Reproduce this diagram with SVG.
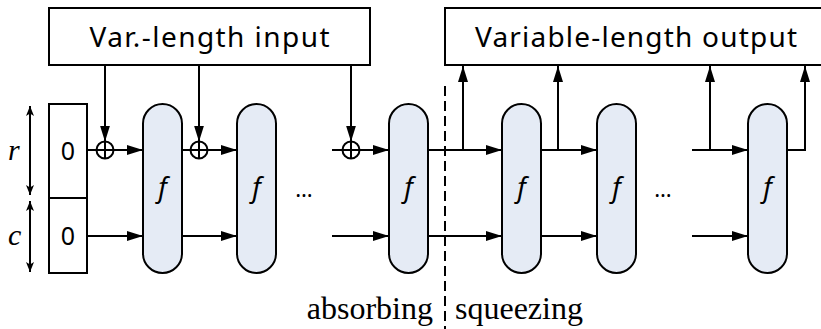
<svg xmlns="http://www.w3.org/2000/svg" width="821" height="329" viewBox="0 0 821 329">
<style>
.box{fill:#fff;stroke:#000;stroke-width:2}
.f{fill:#e5ebf5;stroke:#000;stroke-width:2}
.ln{fill:none;stroke:#000;stroke-width:2}
.ar{marker-end:url(#ah)}
.sans{font-family:"Noto Sans","Open Sans",sans-serif;fill:#000}
.fl{font-family:"Noto Sans","Open Sans",sans-serif;font-style:italic;font-size:27px;text-anchor:middle}
</style>
<defs>
<marker id="ah" markerUnits="userSpaceOnUse" markerWidth="17" markerHeight="11" refX="16" refY="5" orient="auto">
<path d="M0,0 L16,5 L0,10 z" fill="#000"/>
</marker>
<marker id="sm" markerUnits="userSpaceOnUse" markerWidth="11" markerHeight="9" refX="10" refY="4" orient="auto-start-reverse">
<path d="M0,0 L10,4 L0,8 L2.5,4 z" fill="#000"/>
</marker>
</defs>

<g id="input">
<rect class="box" x="49" y="8" width="321" height="57"/>
<text class="sans" x="209.5" y="47" font-size="28" text-anchor="middle" textLength="240" lengthAdjust="spacing">Var.-length input</text>
</g>
<g id="output">
<rect class="box" x="445" y="8" width="390" height="57"/>
<text class="sans" x="636" y="47" font-size="28" text-anchor="middle" textLength="322" lengthAdjust="spacing">Variable-length output</text>
</g>

<g id="state">
<rect class="box" x="49" y="104" width="38" height="94"/>
<rect class="box" x="49" y="198" width="38" height="75"/>
<text class="sans" x="68" y="160" font-size="25" text-anchor="middle">0</text>
<text class="sans" x="68" y="245" font-size="25" text-anchor="middle">0</text>
</g>

<g id="dims">
<line class="ln" x1="30" y1="106" x2="30" y2="195" marker-start="url(#sm)" marker-end="url(#sm)"/>
<line class="ln" x1="30" y1="201" x2="30" y2="272" marker-start="url(#sm)" marker-end="url(#sm)"/>
<text x="8" y="160" font-family="'Liberation Serif', 'Times New Roman', 'DejaVu Serif', serif" font-size="30" font-style="italic">r</text>
<text x="8" y="245" font-family="'Liberation Serif', 'Times New Roman', 'DejaVu Serif', serif" font-size="30" font-style="italic">c</text>
</g>

<g id="f1"><rect class="f" x="143" y="104" width="39" height="169" rx="19.5"/><text class="fl" x="162.5" y="197">f</text></g>
<g id="f2"><rect class="f" x="237" y="104" width="39" height="169" rx="19.5"/><text class="fl" x="256.5" y="197">f</text></g>
<g id="f3"><rect class="f" x="389" y="104" width="39" height="169" rx="19.5"/><text class="fl" x="408.5" y="197">f</text></g>
<g id="f4"><rect class="f" x="502" y="104" width="39" height="169" rx="19.5"/><text class="fl" x="521.5" y="197">f</text></g>
<g id="f5"><rect class="f" x="597" y="104" width="39" height="169" rx="19.5"/><text class="fl" x="616.5" y="197">f</text></g>
<g id="f6"><rect class="f" x="748" y="104" width="39" height="169" rx="19.5"/><text class="fl" x="767.5" y="197">f</text></g>

<g id="xor1"><circle class="ln" cx="105" cy="150" r="8.5"/><path class="ln" d="M96.5,150 H113.5 M105,141.5 V158.5"/></g>
<g id="xor2"><circle class="ln" cx="199" cy="150" r="8.5"/><path class="ln" d="M190.5,150 H207.5 M199,141.5 V158.5"/></g>
<g id="xor3"><circle class="ln" cx="351" cy="150" r="8.5"/><path class="ln" d="M342.5,150 H359.5 M351,141.5 V158.5"/></g>

<g id="dots">
<text class="sans" x="304" y="197" font-size="22" text-anchor="middle">…</text>
<text class="sans" x="663" y="197" font-size="22" text-anchor="middle">…</text>
</g>

<g id="connectors">
<path class="ln" d="M87,150 H96.5"/>
<path class="ln ar" d="M113.5,150 H143"/>
<path class="ln" d="M182,150 H190.5"/>
<path class="ln ar" d="M207.5,150 H237"/>
<path class="ln" d="M332,150 H342.5"/>
<path class="ln ar" d="M359.5,150 H389"/>
<path class="ln ar" d="M428,150 H502"/>
<path class="ln ar" d="M463,150 V66"/>
<path class="ln ar" d="M541,150 H597"/>
<path class="ln ar" d="M558,150 V66"/>
<path class="ln ar" d="M692,150 H748"/>
<path class="ln ar" d="M710,150 V66"/>
<path class="ln ar" d="M787,150 H805 V66"/>
<path class="ln ar" d="M105,65 V141.5"/>
<path class="ln ar" d="M199,65 V141.5"/>
<path class="ln ar" d="M351,65 V141.5"/>
<path class="ln ar" d="M87,236 H143"/>
<path class="ln ar" d="M182,236 H237"/>
<path class="ln ar" d="M332,236 H389"/>
<path class="ln ar" d="M428,236 H502"/>
<path class="ln ar" d="M541,236 H597"/>
<path class="ln ar" d="M692,236 H748"/>
</g>

<g id="phase">
<line x1="445" y1="86" x2="445" y2="329" stroke="#000" stroke-width="2" stroke-dasharray="10 5"/>
<text x="433" y="319" font-family="'Liberation Serif', 'Times New Roman', 'DejaVu Serif', serif" font-size="32" text-anchor="end">absorbing</text>
<text x="455" y="319" font-family="'Liberation Serif', 'Times New Roman', 'DejaVu Serif', serif" font-size="32">squeezing</text>
</g>
</svg>
